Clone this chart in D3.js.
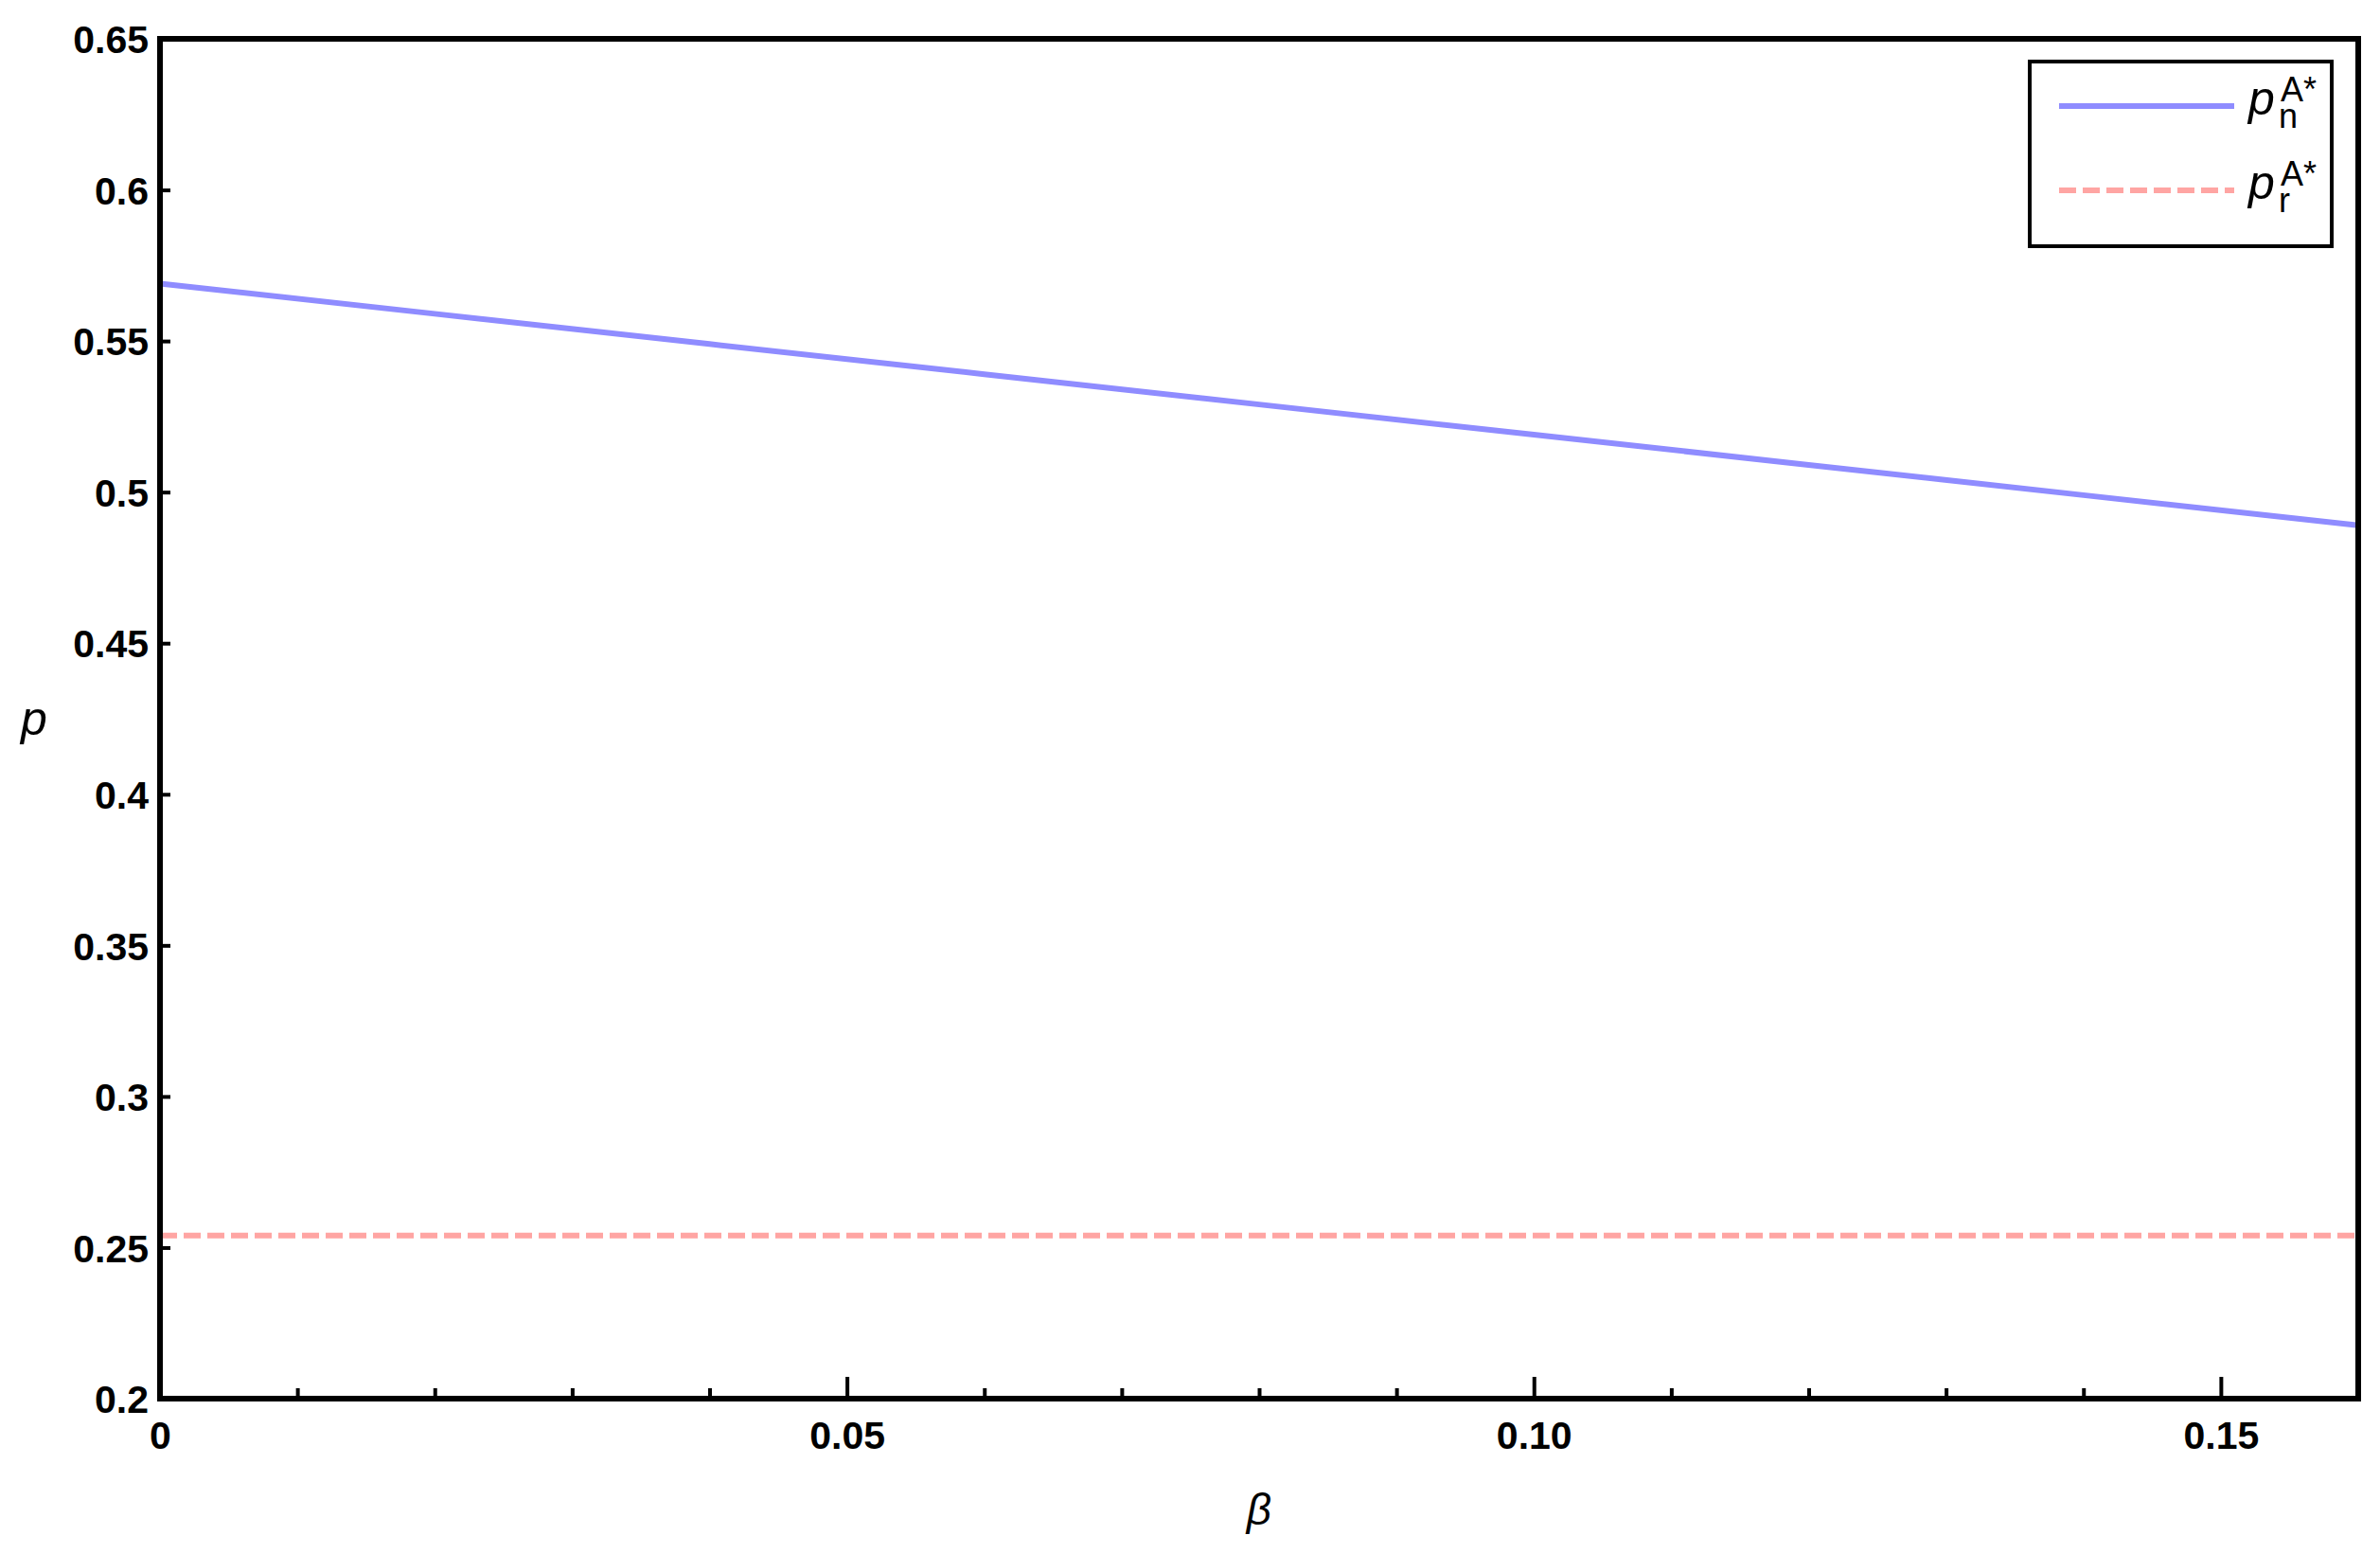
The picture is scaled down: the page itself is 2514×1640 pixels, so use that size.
<!DOCTYPE html>
<head>
  <meta charset="utf-8">
  <script src="https://d3js.org/d3.v7.min.js"></script>
  <style>
body { margin: 0; background: white; }
svg { display: block; background-color: white; }
text { font-family: 'Liberation Sans', Arial, sans-serif; }
  </style>
</head>
<body>
<svg width="2514" height="1640"></svg>
<script>
// values
var beta = [0, 0.02, 0.04, 0.06, 0.08, 0.10, 0.12, 0.14, 0.16];
var pnA = [0.569, 0.559, 0.549, 0.539, 0.529, 0.519, 0.509, 0.499, 0.489];
var prA = [0.254, 0.254, 0.254, 0.254, 0.254, 0.254, 0.254, 0.254, 0.254];
var xTicks = [0, 0.05, 0.10, 0.15];
var xTickLabels = ["0", "0.05", "0.10", "0.15"];
var xMinor = [0.01, 0.02, 0.03, 0.04, 0.06, 0.07, 0.08, 0.09, 0.11, 0.12, 0.13, 0.14];
var yTicks = [0.2, 0.25, 0.3, 0.35, 0.4, 0.45, 0.5, 0.55, 0.6, 0.65];
var yTickLabels = ["0.2", "0.25", "0.3", "0.35", "0.4", "0.45", "0.5", "0.55", "0.6", "0.65"];

var plotLeft = 169, plotRight = 2491, plotTop = 41, plotBottom = 1477;

var svg = d3.select("svg");

var x = d3.scaleLinear().domain([0, 0.16]).range([plotLeft, plotRight]);
var y = d3.scaleLinear().domain([0.2, 0.65]).range([plotBottom, plotTop]);

// x axis: major + minor ticks
var xAxis = d3.axisBottom(x).tickValues(xTicks).tickSize(-23)
              .tickFormat(function(d, i) { return xTickLabels[i]; });
var gx = svg.append("g").attr("transform", "translate(0," + plotBottom + ")").call(xAxis);
gx.attr("font-size", null).attr("font-family", null);
gx.select(".domain").remove();
gx.selectAll(".tick line").attr("stroke", "#000").attr("stroke-width", 4);
gx.selectAll(".tick text").attr("y", 24).attr("dy", "0.71em")
  .style("font-size", "41px").style("font-weight", "bold").attr("fill", "#000");

var gxm = svg.append("g").attr("transform", "translate(0," + plotBottom + ")")
   .call(d3.axisBottom(x).tickValues(xMinor).tickSize(-11).tickFormat(""));
gxm.select(".domain").remove();
gxm.selectAll(".tick line").attr("stroke", "#000").attr("stroke-width", 4);

// y axis
var yAxis = d3.axisLeft(y).tickValues(yTicks).tickSize(-11)
              .tickFormat(function(d, i) { return yTickLabels[i]; });
var gy = svg.append("g").attr("transform", "translate(" + plotLeft + ",0)").call(yAxis);
gy.attr("font-size", null).attr("font-family", null);
gy.select(".domain").remove();
gy.selectAll(".tick line").attr("stroke", "#000").attr("stroke-width", 4);
gy.selectAll(".tick text").attr("x", -12).attr("dy", "0.36em")
  .style("font-size", "41px").style("font-weight", "bold").attr("fill", "#000");

// curves
var line = d3.line().x(function(d) { return x(d[0]); }).y(function(d) { return y(d[1]); });

svg.append("path")
   .datum(d3.zip(beta, pnA))
   .attr("d", line)
   .attr("fill", "none")
   .attr("stroke", "#8f8cff")
   .attr("stroke-width", 6);

svg.append("path")
   .datum(d3.zip(beta, prA))
   .attr("d", line)
   .attr("fill", "none")
   .attr("stroke", "#ffa5a3")
   .attr("stroke-width", 6)
   .attr("stroke-dasharray", "18,7");

// frame
svg.append("rect")
   .attr("x", plotLeft).attr("y", plotTop)
   .attr("width", plotRight - plotLeft).attr("height", plotBottom - plotTop)
   .attr("fill", "none").attr("stroke", "#000").attr("stroke-width", 6);

// axis labels
svg.append("text").attr("x", (plotLeft + plotRight) / 2).attr("y", 1610)
   .attr("text-anchor", "middle").style("font-size", "46px").style("font-style", "italic")
   .text("β");
svg.append("text").attr("x", 36).attr("y", 776)
   .attr("text-anchor", "middle").style("font-size", "50px").style("font-style", "italic")
   .text("p");

// legend
var legend = svg.append("g");
legend.append("rect")
   .attr("x", 2144).attr("y", 65).attr("width", 319).attr("height", 195)
   .attr("fill", "white").attr("stroke", "#000").attr("stroke-width", 4);

var items = [
  {sub: "n", color: "#8f8cff", dash: null, y: 112},
  {sub: "r", color: "#ffa5a3", dash: "18,7", y: 201}
];
items.forEach(function(it) {
  legend.append("line")
     .attr("x1", 2175).attr("x2", 2360).attr("y1", it.y).attr("y2", it.y)
     .attr("stroke", it.color).attr("stroke-width", 6)
     .attr("stroke-dasharray", it.dash);
  legend.append("text").attr("x", 2375).attr("y", it.y + 9)
     .style("font-size", "50px").style("font-style", "italic").text("p");
  legend.append("text").attr("x", 2409).attr("y", it.y - 5)
     .style("font-size", "36px").text("A*");
  legend.append("text").attr("x", 2407).attr("y", it.y + 23)
     .style("font-size", "36px").text(it.sub);
});
</script>
</body>
</html>
